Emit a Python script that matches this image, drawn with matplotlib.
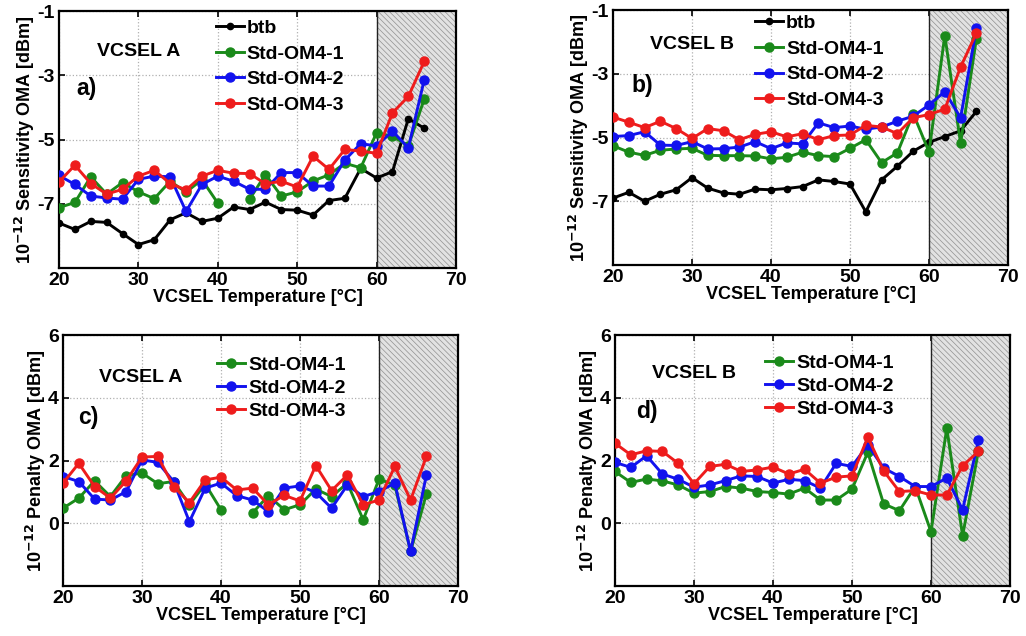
import numpy as np
import matplotlib
matplotlib.use("Agg")
import matplotlib.pyplot as plt

plt.rcParams['font.family'] = ['Liberation Sans', 'DejaVu Sans']
plt.rcParams['font.weight'] = 'bold'
plt.rcParams['hatch.linewidth'] = 0.5
plt.rcParams['axes.unicode_minus'] = False

# VCSEL temperature [degC]
temp = np.arange(20, 67, 2)
nan = np.nan

# Sensitivity OMA [dBm], VCSEL A
sensA_btb = [-7.6, -7.8, -7.55, -7.58, -7.93, -8.27, -8.12, -7.5, -7.28, -7.55, -7.45, -7.1,
             -7.18, -6.95, -7.18, -7.2, -7.35, -6.9, -6.83, -5.9, -6.2, -6.0, -4.35, -4.65]
sensA_om1 = [-7.12, -6.96, -6.16, -6.7, -6.34, -6.63, -6.84, -6.3, -6.64, -6.25, -6.98, nan,
             -6.86, -6.09, -6.76, -6.63, -6.29, -6.1, -5.74, -5.88, -4.79, -4.9, -5.2, -3.74]
sensA_om2 = [-6.12, -6.4, -6.76, -6.82, -6.86, -6.24, -6.14, -6.16, -7.24, -6.4, -6.14, -6.3,
             -6.55, -6.55, -6.03, -6.03, -6.45, -6.45, -5.64, -5.13, -5.2, -4.74, -5.26, -3.14]
sensA_om3 = [-6.32, -5.8, -6.37, -6.7, -6.55, -6.14, -5.96, -6.37, -6.57, -6.14, -5.96, -6.05,
             -6.06, -6.38, -6.3, -6.48, -5.52, -5.93, -5.31, -5.36, -5.43, -4.17, -3.66, -2.57]

# Sensitivity OMA [dBm], VCSEL B
sensB_btb = [-6.9, -6.72, -7.0, -6.78, -6.64, -6.26, -6.59, -6.74, -6.78, -6.62, -6.64, -6.6,
             -6.54, -6.33, -6.38, -6.46, -7.33, -6.33, -5.9, -5.43, -5.15, -4.97, -4.79, -4.18]
sensB_om1 = [-5.26, -5.46, -5.56, -5.4, -5.36, -5.34, -5.56, -5.57, -5.57, -5.58, -5.67, -5.62,
             -5.46, -5.57, -5.6, -5.34, -5.07, -5.79, -5.48, -4.25, -5.45, -1.8, -5.18, -1.9]
sensB_om2 = [-4.97, -4.94, -4.82, -5.24, -5.25, -5.13, -5.36, -5.35, -5.3, -5.13, -5.35, -5.17,
             -5.2, -4.54, -4.69, -4.64, -4.74, -4.67, -4.49, -4.33, -3.98, -3.56, -4.38, -1.56]
sensB_om3 = [-4.36, -4.52, -4.69, -4.49, -4.72, -5.03, -4.72, -4.79, -5.07, -4.9, -4.82, -4.98,
             -4.88, -5.07, -4.94, -4.92, -4.62, -4.67, -4.88, -4.38, -4.28, -4.11, -2.79, -1.72]

# Penalty OMA [dBm], VCSEL A
penA_om1 = [0.48, 0.8, 1.35, 0.85, 1.52, 1.6, 1.26, 1.33, 0.59, 1.25, 0.43, nan,
            0.33, 0.88, 0.43, 0.59, 1.09, 0.85, 1.28, 0.11, 1.4, 1.22, -0.9, 0.94]
penA_om2 = [1.49, 1.33, 0.77, 0.74, 1.01, 2.02, 1.94, 1.33, 0.05, 1.12, 1.28, 0.88,
            0.74, 0.37, 1.12, 1.19, 0.98, 0.48, 1.22, 0.85, 1.01, 1.28, -0.9, 1.54]
penA_om3 = [1.28, 1.91, 1.17, 0.8, 1.35, 2.11, 2.13, 1.17, 0.66, 1.38, 1.47, 1.06,
            1.12, 0.59, 0.89, 0.71, 1.84, 1.04, 1.54, 0.59, 0.74, 1.81, 0.74, 2.13]

# Penalty OMA [dBm], VCSEL B
penB_om1 = [1.65, 1.3, 1.41, 1.35, 1.22, 0.96, 1.01, 1.17, 1.12, 1.01, 0.98, 0.93,
            1.12, 0.74, 0.74, 1.09, 2.26, 0.62, 0.4, 1.17, -0.27, 3.03, -0.4, 2.3]
penB_om2 = [1.94, 1.78, 2.15, 1.57, 1.4, 1.15, 1.22, 1.36, 1.51, 1.49, 1.28, 1.4,
            1.36, 1.12, 1.91, 1.81, 2.5, 1.76, 1.49, 1.17, 1.17, 1.44, 0.43, 2.64]
penB_om3 = [2.55, 2.18, 2.31, 2.29, 1.91, 1.26, 1.81, 1.88, 1.65, 1.7, 1.79, 1.57,
            1.72, 1.28, 1.47, 1.51, 2.74, 1.67, 1.01, 1.04, 0.9, 0.9, 1.83, 2.29]

labels = ['btb', 'Std-OM4-1', 'Std-OM4-2', 'Std-OM4-3']
colors = ['#000000', '#1a8a1a', '#1212ee', '#ee1c1c']

fig = plt.figure(figsize=(10.26, 6.36), dpi=100)
W, H = 1026, 636


def axes_px(left, top, right, bottom):
    return fig.add_axes([left / W, 1 - bottom / H, (right - left) / W, (bottom - top) / H])


def style(ax, ylim, yticks, ylabel):
    ax.set_xlim(20, 70)
    ax.set_ylim(*ylim)
    ax.set_xticks([20, 30, 40, 50, 60, 70])
    ax.set_yticks(yticks)
    ax.tick_params(direction='in', top=True, right=True, labelsize=14, length=4, width=1.2, pad=3)
    for lab in ax.get_xticklabels() + ax.get_yticklabels():
        lab.set_fontweight('bold')
    ax.grid(True, color='#b0b0b0', linestyle=':', linewidth=0.9)
    ax.set_axisbelow(True)
    for s in ax.spines.values():
        s.set_linewidth(1.6)
    ax.set_xlabel('VCSEL Temperature [\u00b0C]', fontsize=13, fontweight='bold', labelpad=0)
    ax.set_ylabel(ylabel, fontsize=13, fontweight='bold', labelpad=0)
    ax.axvspan(60, 70, facecolor='#e2e2e2', edgecolor='#909090', hatch='\\\\\\\\\\\\',
               linewidth=0, zorder=1)
    ax.axvline(60, color='#222222', linewidth=1.0, zorder=1.5)


def plot_series(ax, series, lbls, cols):
    for y, lab, c in zip(series, lbls, cols):
        if lab == 'btb':
            ax.plot(temp, y, color=c, marker='o', markersize=4.5, linewidth=2.1, label=lab, zorder=3)
        else:
            ax.plot(temp, y, color=c, marker='o', markersize=6.5, linewidth=2.1, label=lab, zorder=3)


def add_legend(ax, x, y, spacing):
    ax.legend(loc='upper left', bbox_to_anchor=(x, y), frameon=False, fontsize=14,
              handlelength=1.45, handletextpad=0.15, labelspacing=spacing, borderpad=0)


sens_label = '10$^{\\mathbf{-12}}$ Sensitivity OMA [dBm]'
pen_label = '10$^{\\mathbf{-12}}$ Penalty OMA [dBm]'

# a) VCSEL A sensitivity
axA = axes_px(59, 11, 456, 268)
style(axA, (-9, -1), [-7, -5, -3, -1], sens_label)
plot_series(axA, [sensA_btb, sensA_om1, sensA_om2, sensA_om3], labels, colors)
axA.text(30, -2.27, 'VCSEL A', fontsize=14, fontweight='bold', ha='center', va='center')
axA.text(22.2, -3.4, 'a)', fontsize=16.5, fontweight='bold', ha='left', va='center')
add_legend(axA, 0.37, 1.005, 0.41)

# b) VCSEL B sensitivity
axB = axes_px(613, 10, 1008, 265)
style(axB, (-9, -1), [-7, -5, -3, -1], sens_label)
plot_series(axB, [sensB_btb, sensB_om1, sensB_om2, sensB_om3], labels, colors)
axB.text(30, -2.08, 'VCSEL B', fontsize=14, fontweight='bold', ha='center', va='center')
axB.text(22.4, -3.37, 'b)', fontsize=16.5, fontweight='bold', ha='left', va='center')
add_legend(axB, 0.335, 1.02, 0.41)

# c) VCSEL A penalty
axC = axes_px(63, 335, 458, 586)
style(axC, (-2, 6), [0, 2, 4, 6], pen_label)
plot_series(axC, [penA_om1, penA_om2, penA_om3], labels[1:], colors[1:])
axC.text(29.8, 4.63, 'VCSEL A', fontsize=14, fontweight='bold', ha='center', va='center')
axC.text(21.9, 3.36, 'c)', fontsize=16.5, fontweight='bold', ha='left', va='center')
add_legend(axC, 0.365, 0.955, 0.28)

# d) VCSEL B penalty
axD = axes_px(615, 335, 1010, 586)
style(axD, (-2, 6), [0, 2, 4, 6], pen_label)
plot_series(axD, [penB_om1, penB_om2, penB_om3], labels[1:], colors[1:])
axD.text(30, 4.76, 'VCSEL B', fontsize=14, fontweight='bold', ha='center', va='center')
axD.text(22.7, 3.55, 'd)', fontsize=16.5, fontweight='bold', ha='left', va='center')
add_legend(axD, 0.355, 0.962, 0.28)

fig.savefig('out.png', dpi=100, facecolor='white')
